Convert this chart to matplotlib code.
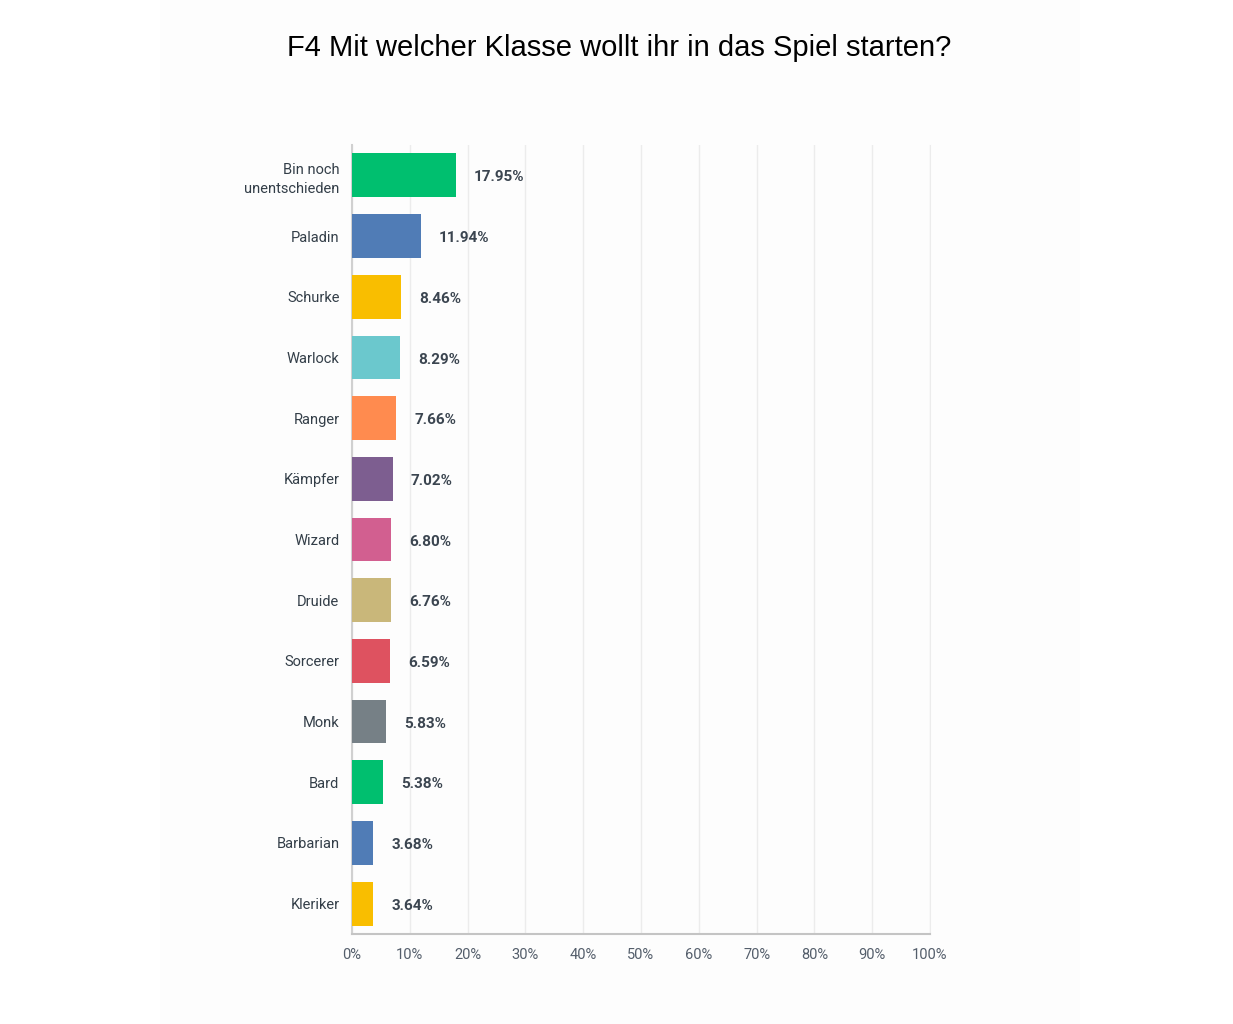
import matplotlib
matplotlib.use("Agg")
import matplotlib.pyplot as plt
from matplotlib.patches import Rectangle

# Daten
klassen = ["Bin noch\nunentschieden", "Paladin", "Schurke", "Warlock", "Ranger",
           "Kämpfer", "Wizard", "Druide", "Sorcerer", "Monk", "Bard",
           "Barbarian", "Kleriker"]
anteile = [17.95, 11.94, 8.46, 8.29, 7.66, 7.02, 6.80, 6.76, 6.59, 5.83, 5.38,
           3.68, 3.64]
farben = ["#00BF6F", "#507CB6", "#F9BE00", "#6BC8CD", "#FF8B4F", "#7D5E90",
          "#D25F90", "#C9B77A", "#DE5260", "#768086", "#00BF6F", "#507CB6",
          "#F9BE00"]
x_ticks = [0, 10, 20, 30, 40, 50, 60, 70, 80, 90, 100]

plt.rcParams['font.family'] = ['Roboto', 'DejaVu Sans']

fig = plt.figure(figsize=(12.33, 10.24), dpi=100)
fig.patch.set_facecolor("white")
# leicht graues Panel im Hintergrund
fig.patches.append(Rectangle((160 / 1233, 0), 920 / 1233, 1, transform=fig.transFigure,
                             facecolor="#fdfdfd", edgecolor="none", zorder=-10))

ax = fig.add_axes([352 / 1233, 1 - 934 / 1024, 578 / 1233, 789 / 1024])
ax.set_facecolor("none")

y = list(range(len(klassen)))
ax.barh(y, anteile, height=0.72, color=farben, zorder=3)

for yi, v in zip(y, anteile):
    ax.annotate(f"{v:.2f}%", (v, yi), xytext=(13, -1.5), textcoords="offset points",
                va="center", ha="left", fontsize=11, fontweight="bold",
                color="#3b4550")

ax.set_xlim(0, 100)
ax.set_ylim(len(klassen) - 0.5, -0.5)
ax.set_xticks(x_ticks)
ax.set_xticklabels([f"{t}%" for t in x_ticks], fontsize=10.5, color="#545e6b")
ax.set_yticks(y)
ax.set_yticklabels(klassen, fontsize=10.5, color="#333e48", multialignment="right",
                   linespacing=1.5)
ax.tick_params(axis="x", length=0, pad=10)
ax.tick_params(axis="y", length=0, pad=9)

ax.grid(axis="x", color="#ececec", linewidth=1, zorder=0)
ax.spines["top"].set_visible(False)
ax.spines["right"].set_color("#ececec")
ax.spines["left"].set_color("#d0d0d0")
ax.spines["bottom"].set_color("#c4c4c4")
ax.spines["left"].set_linewidth(1.5)
ax.spines["bottom"].set_linewidth(1.5)

fig.text(619 / 1233, 1 - 48 / 1024, "F4 Mit welcher Klasse wollt ihr in das Spiel starten?",
         ha="center", va="center", fontsize=21, family="Liberation Sans", color="#000000")

fig.savefig("out.png", dpi=100)
